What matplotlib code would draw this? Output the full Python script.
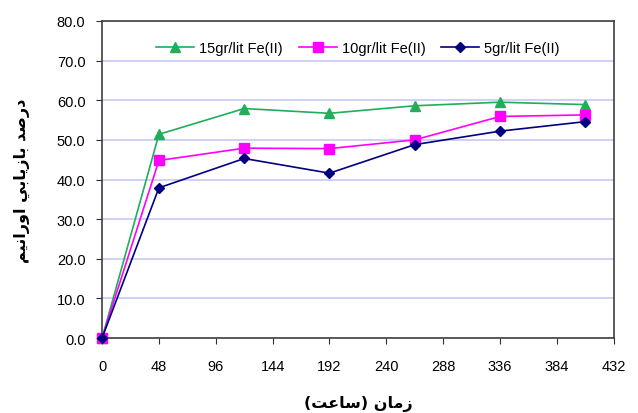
import matplotlib
matplotlib.use("Agg")
from matplotlib import pyplot as plt

# time (hours) and uranium recovery (%)
hours = [0, 48, 120, 192, 264, 336, 408]
fe15 = [0.0, 51.4, 57.9, 56.7, 58.6, 59.5, 58.9]
fe10 = [0.0, 44.8, 47.9, 47.8, 50.0, 55.9, 56.3]
fe5 = [0.0, 37.9, 45.3, 41.6, 48.8, 52.2, 54.6]

series_names = ["15gr/lit Fe(II)", "10gr/lit Fe(II)", "5gr/lit Fe(II)"]
x_ticks = list(range(0, 433, 48))
y_ticks = [v * 10 for v in range(9)]

# Persian labels, pre-shaped (presentation forms, visual order)
y_label = "\ufee2\ufef4\ufee7\ufe8d\ufead\ufeed\ufe8d \ufef2\ufe91\ufe8e\ufef3\ufeaf\ufe8e\ufe91 \ufeaa\ufebb\ufead\ufea9"
x_label = "(\ufe96\ufecb\ufe8e\ufeb3) \ufee5\ufe8e\ufee3\ufeaf"

plt.rcParams["font.family"] = ["Liberation Sans", "DejaVu Sans"]

fig = plt.figure(figsize=(6.38, 4.14), dpi=100)
ax = fig.add_axes([0.160, 0.181, 0.802, 0.766])

ax.plot(hours, fe15, color="#1fae5a", marker="^", markersize=7.5, lw=1.2,
        label=series_names[0], clip_on=False, zorder=3)
ax.plot(hours, fe10, color="#ff00ff", marker="s", markersize=7, lw=1.2,
        label=series_names[1], clip_on=False, zorder=4)
ax.plot(hours, fe5, color="#000080", marker="D", markersize=5.5, lw=1.2,
        label=series_names[2], clip_on=False, zorder=5)

ax.set_xlim(0, 432)
ax.set_ylim(0, 80)
ax.set_xticks(x_ticks)
ax.set_yticks(y_ticks)
ax.set_yticklabels([f"{v:.1f}" for v in y_ticks])
ax.tick_params(labelsize=10.5, direction="out", length=4, colors="#303030",
               labelcolor="black")
ax.tick_params(axis="x", pad=11)
ax.tick_params(axis="y", pad=8)
ax.yaxis.grid(True, color="#c8c8f4", lw=1.2)
ax.set_axisbelow(True)
for s in ax.spines.values():
    s.set_color("#404040")
    s.set_linewidth(1.2)

ax.set_ylabel(y_label, family=["DejaVu Sans"], fontweight="bold", fontsize=11.5,
              labelpad=19)
ax.set_xlabel(x_label, family=["DejaVu Sans"], fontweight="bold", fontsize=11.5,
              labelpad=16)

ax.legend(loc="center", bbox_to_anchor=(0.5, 0.915), ncol=3, frameon=False,
          fontsize=10.5, handlelength=2.6, columnspacing=1.1, handletextpad=0.35)

fig.savefig("out.png", dpi=100)
